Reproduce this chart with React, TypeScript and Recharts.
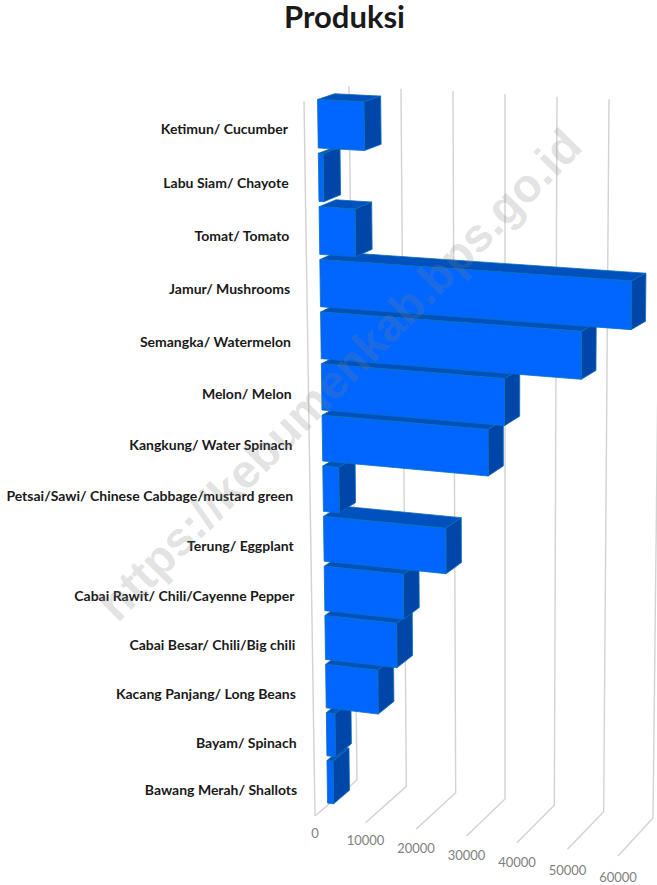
import { BarChart, Bar, XAxis, YAxis, CartesianGrid } from 'recharts'

// Excel order: first category sits at the bottom of the chart
const categories = [
  'Bawang Merah/ Shallots',
  'Bayam/ Spinach',
  'Kacang Panjang/ Long Beans',
  'Cabai Besar/ Chili/Big chili',
  'Cabai Rawit/ Chili/Cayenne Pepper',
  'Terung/ Eggplant',
  'Petsai/Sawi/ Chinese Cabbage/mustard green',
  'Kangkung/ Water Spinach',
  'Melon/ Melon',
  'Semangka/ Watermelon',
  'Jamur/ Mushrooms',
  'Tomat/ Tomato',
  'Labu Siam/ Chayote',
  'Ketimun/ Cucumber',
]
const produksi = [1200, 1700, 10300, 14100, 15500, 23900, 3100, 32200, 35400, 50250, 59800, 6870, 900, 8800]
const valueTicks = [0, 10000, 20000, 30000, 40000, 50000, 60000]

const data = categories.map((name, i) => ({ name, produksi: produksi[i] }))

const WIDTH = 657
const HEIGHT = 885
const PLOT = { left: 300, right: 620, top: 100, bottom: 800 }

// corners of the 3D box on screen: [u, v, w] = value, category, depth
const CORNERS = {
  p000: [304, 101], p100: [622, 117], p010: [315, 816], p110: [618, 856],
  p001: [349, 86], p101: [661, 102], p011: [357, 780], p111: [653, 818],
}
const BAR_FRONT = 0.3
const BAR_BACK = 0.68

const mix = (a: number, b: number, t: number) => a + (b - a) * t

function project(px: number, py: number, w: number) {
  const u = (px - PLOT.left) / (PLOT.right - PLOT.left)
  const raw = (py - PLOT.top) / (PLOT.bottom - PLOT.top)
  const v = raw * 1.07 - 0.07 * raw * raw // rows get a bit smaller further down
  const c = CORNERS
  const at = (i: number) =>
    mix(
      mix(mix(c.p000[i], c.p100[i], u), mix(c.p010[i], c.p110[i], u), v),
      mix(mix(c.p001[i], c.p101[i], u), mix(c.p011[i], c.p111[i], u), v),
      w,
    )
  return { x: at(0), y: at(1) }
}

const pts = (list: { x: number; y: number }[]) => list.map((p) => `${p.x},${p.y}`).join(' ')

function Bar3D(props: any) {
  const { x, y, width, height } = props
  const tl = project(x, y, BAR_FRONT)
  const tr = project(x + width, y, BAR_FRONT)
  const br = project(x + width, y + height, BAR_FRONT)
  const bl = project(x, y + height, BAR_FRONT)
  const tlB = project(x, y, BAR_BACK)
  const trB = project(x + width, y, BAR_BACK)
  const brB = project(x + width, y + height, BAR_BACK)
  return (
    <g stroke="#0a6fb8" strokeWidth={0.8} strokeLinejoin="round">
      <polygon points={pts([tl, tr, trB, tlB])} fill="#0050bd" />
      <polygon points={pts([tr, br, brB, trB])} fill="#0046a8" />
      <polygon points={pts([tl, tr, br, bl])} fill="#0066ff" />
    </g>
  )
}

function GridLine(props: any) {
  const { x1, y1, y2 } = props
  const wallTop = project(x1, y1, 1)
  const wallBottom = project(x1, y2, 1)
  const front = project(x1, y2, 0)
  const isZero = Math.abs(x1 - PLOT.left) < 0.5
  const sideTop = project(x1, y1, 0)
  return (
    <g key={`grid-${x1}`} stroke="#d2d2d2" strokeWidth={1.4} fill="none">
      <polyline points={pts([wallTop, wallBottom, front])} />
      {isZero && <line x1={sideTop.x} y1={sideTop.y} x2={front.x} y2={front.y} />}
    </g>
  )
}

function ValueTick(props: any) {
  const { x, payload } = props
  const p = project(x, PLOT.bottom, 0)
  const u = (x - PLOT.left) / (PLOT.right - PLOT.left)
  return (
    <text x={p.x} y={p.y + 17 + 4 * u} textAnchor="middle" dominantBaseline="central" fontFamily="Lato" fontSize={13} fill="#7f7f7f">
      {payload.value}
    </text>
  )
}

function CategoryTick(props: any) {
  const { y, payload } = props
  const p = project(PLOT.left, y, BAR_FRONT)
  const raw = (y - PLOT.top) / (PLOT.bottom - PLOT.top)
  const labelY = project(PLOT.left, y, 0).y + 0.5 - 3 * raw
  return (
    <text x={p.x - 30} y={labelY} textAnchor="end" dominantBaseline="central" fontFamily="Lato" fontWeight={700} fontSize={14} fill="#1a1a1a">
      {payload.value}
    </text>
  )
}

export default function App() {
  return (
    <div style={{ position: 'absolute', left: 0, top: 0, width: WIDTH, height: HEIGHT, overflow: 'hidden', background: '#fff' }}>
      <BarChart
        width={WIDTH}
        height={HEIGHT}
        data={data}
        layout="vertical"
        barCategoryGap="5.5%"
        margin={{ top: PLOT.top, right: WIDTH - PLOT.right, bottom: HEIGHT - PLOT.bottom - 30, left: 0 }}
      >
        <CartesianGrid horizontal={false} vertical={GridLine as any} />
        <XAxis type="number" domain={[0, 60000]} ticks={valueTicks} height={30} interval={0} axisLine={false} tickLine={false} tick={ValueTick as any} />
        <YAxis type="category" dataKey="name" reversed width={PLOT.left} interval={0} axisLine={false} tickLine={false} tick={CategoryTick as any} />
        <Bar dataKey="produksi" shape={Bar3D as any} isAnimationActive={false} />
      </BarChart>
      <svg width={WIDTH} height={HEIGHT} style={{ position: 'absolute', left: 0, top: 0, pointerEvents: 'none' }}>
        <text x={344.5} y={28} textAnchor="middle" fontFamily="Lato" fontWeight={700} fontSize={31} fill="#1a1a1a">
          Produksi
        </text>
        <text x={339} y={391} textAnchor="middle" transform="rotate(-45.5 339 374)" fontFamily="Liberation Sans" fontWeight={700} fontSize={47} fill="#808080" fillOpacity={0.24}>
          https://kebumenkab.bps.go.id
        </text>
      </svg>
    </div>
  )
}
